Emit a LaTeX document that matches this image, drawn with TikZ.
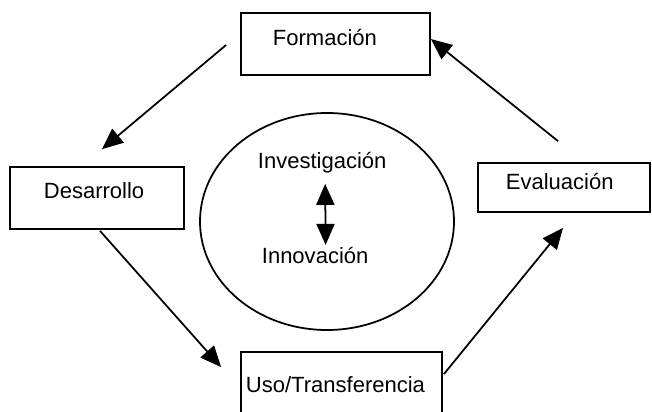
\documentclass[tikz,border=0pt]{standalone}
\usepackage{fontspec}
\setmainfont{Liberation Sans}
\usetikzlibrary{arrows.meta,shapes.geometric}

\begin{document}
\begin{tikzpicture}[x=0.3mm, y=-0.3mm, line width=1.5pt,
        caja/.style={draw, rectangle, inner sep=0pt},
        texto/.style={inner sep=0pt, anchor=base west, font=\fontsize{18.8}{22}\selectfont},
        flecha/.style={-{Triangle[length=6.3mm, width=5.4mm]}}]
        \clip (0,0) rectangle (652,411);

        \node[caja, minimum width=56.7mm, minimum height=18.6mm] (formacion) at (335.5,44) {};
        \node[caja, minimum width=52.2mm, minimum height=18.6mm] (desarrollo) at (97,198) {};
        \node[caja, minimum width=51.6mm, minimum height=14.7mm] (evaluacion) at (564,187.5) {};
        \node[caja, minimum width=60.3mm, minimum height=23.4mm] (uso) at (341.5,391) {};
        \node[draw, ellipse, minimum width=76.2mm, minimum height=65.1mm] (centro) at (327,221.5) {};

        \node[texto] (tformacion) at (272,45) {Formación};
        \node[texto] (tdesarrollo) at (43,198) {Desarrollo};
        \node[texto] (tevaluacion) at (505,189) {Evaluación};
        \node[texto] (tuso) at (245,392) {Uso/Transferencia};
        \node[texto] (tinvestigacion) at (257,168) {Investigación};
        \node[texto] (tinnovacion) at (261,263) {Innovación};

        \draw[flecha] ([shift={(-14,1)}]formacion.west) -- ([shift={(5,-17)}]desarrollo.north);
        \draw[flecha] ([shift={(3,1)}]desarrollo.south) -- ([shift={(-19,16)}]uso.north west);
        \draw[flecha] ([shift={(1,23)}]uso.north east) -- ([shift={(-1,15)}]evaluacion.south);
        \draw[flecha] ([shift={(-6,-21)}]evaluacion.north) -- ([shift={(0,-5)}]formacion.east);
        \draw[{Triangle[length=6.3mm, width=5.4mm]}-{Triangle[length=6.3mm, width=5.4mm]}]
            ([shift={(3,10.4)}]tinvestigacion.south) -- ([shift={(10.5,-1)}]tinnovacion.north);
\end{tikzpicture}
\end{document}
